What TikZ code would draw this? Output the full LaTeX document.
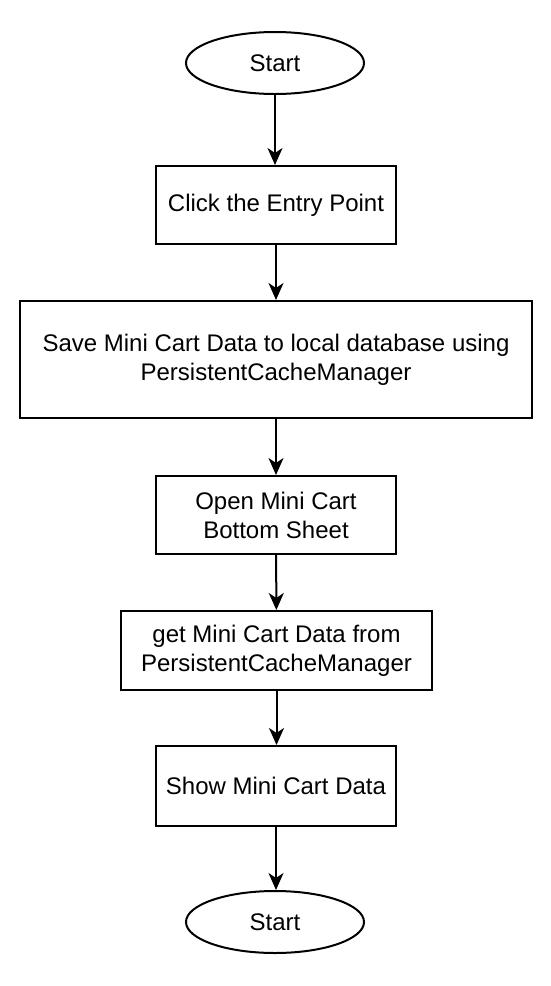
\documentclass[tikz,border=0pt]{standalone}
\usepackage{fontspec}
\setmainfont{Liberation Sans}
\usetikzlibrary{shapes.geometric,arrows.meta}
\begin{document}
\begin{tikzpicture}[x=1pt,y=-1pt,
  every node/.style={font=\fontsize{24}{29}\selectfont, align=center, inner sep=0pt, line width=2pt, draw=black},
  term/.style={ellipse, minimum width=178pt, minimum height=62pt},
  proc/.style={rectangle, minimum height=78pt},
  flow/.style={line width=2pt, -{Stealth[length=17pt,width=15pt,inset=5pt]}}]
\useasboundingbox (0,0) rectangle (550,986);
\node[term] (s) at (275,63) {Start};
\node[proc, minimum width=240pt] (b1) at (276,205) {Click the Entry Point};
\node[proc, minimum width=512pt, minimum height=117pt] (b2) at (276,359.5) {Save Mini Cart Data to local database using\\PersistentCacheManager};
\node[proc, minimum width=240pt] (b3) at (276,515) {Open Mini Cart\\Bottom Sheet};
\node[proc, minimum width=311pt, minimum height=79pt] (b4) at (276.5,650.5) {get Mini Cart Data from\\PersistentCacheManager};
\node[proc, minimum width=240pt, minimum height=80pt] (b5) at (276,786) {Show Mini Cart Data};
\node[term] (e) at (275,922) {Start};
\draw[flow] (s) -- (s |- b1.north);
\draw[flow] (b1) -- (b2);
\draw[flow] (b2) -- (b3);
\draw[flow] (b3) -- (b4);
\draw[flow] (b4.south) -- (b4.south |- b5.north);
\draw[flow] (b5) -- (b5 |- e.north);
\end{tikzpicture}
\end{document}
